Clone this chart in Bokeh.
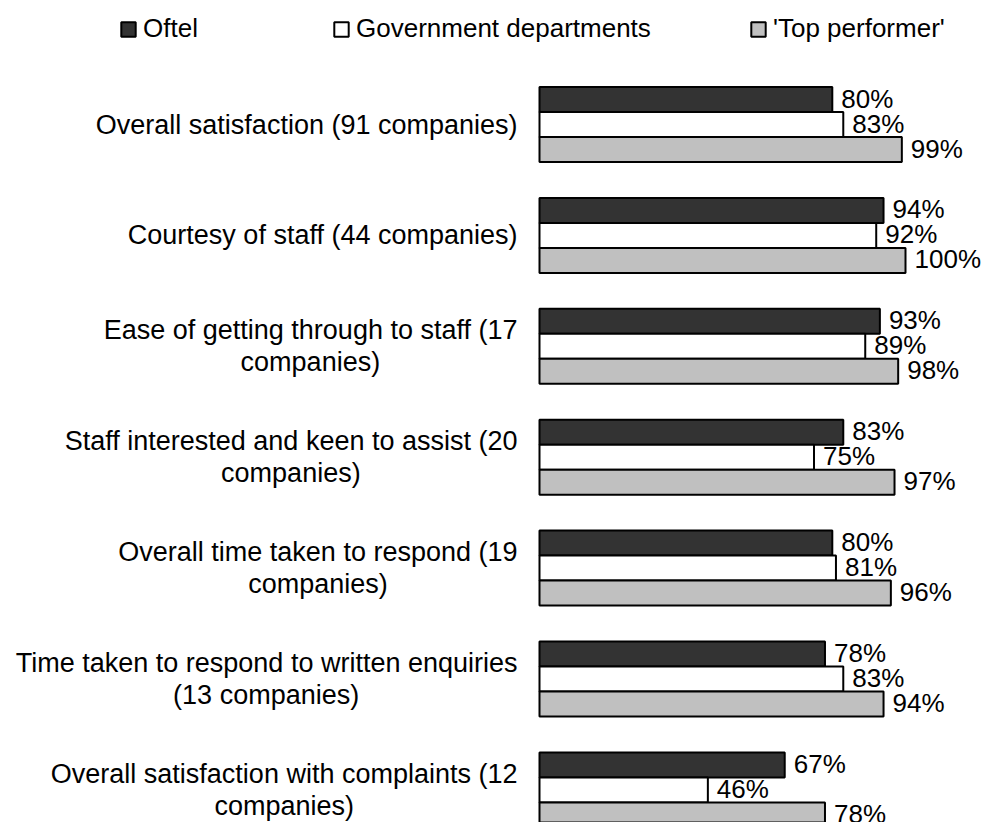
from bokeh.plotting import figure
from bokeh.models import Range1d, ColumnDataSource, Legend, LegendItem
from bokeh.embed import file_html
from bokeh.resources import INLINE
from bokeh.core.properties import value

# ---------------- data ----------------
categories = [
    ["Overall satisfaction (91 companies)"],
    ["Courtesy of staff (44 companies)"],
    ["Ease of getting through to staff (17", "companies)"],
    ["Staff interested and keen to assist (20", "companies)"],
    ["Overall time taken to respond (19", "companies)"],
    ["Time taken to respond to written enquiries", "(13 companies)"],
    ["Overall satisfaction with complaints (12", "companies)"],
]
series_names = ["Oftel", "Government departments", "'Top performer'"]
oftel = [80, 94, 93, 83, 80, 78, 67]
government = [83, 92, 89, 75, 81, 83, 46]
top_performer = [99, 100, 98, 97, 96, 94, 78]

# ---------------- layout ----------------
W, H = 984, 822
PX_PER_PCT = 3.66          # horizontal scale
X0_PX = 539                # pixel position of 0 %
PX_PER_CAT = 110.9         # vertical distance between groups
Y0_PX = 124                # pixel centre of first group
BAR_PX = 25

FONT = "Liberation Sans"
CAT_SIZE = "27px"
VAL_SIZE = "26px"

x_range = Range1d(-X0_PX / PX_PER_PCT, (W - X0_PX) / PX_PER_PCT)
y_range = Range1d((H - Y0_PX) / PX_PER_CAT, -Y0_PX / PX_PER_CAT)

p = figure(width=W, height=H, x_range=x_range, y_range=y_range,
           output_backend="svg", toolbar_location=None, min_border=0)
p.outline_line_color = None
p.axis.visible = False
p.grid.visible = False
p.background_fill_color = "white"

bar_h = BAR_PX / PX_PER_CAT
colors = ["#333333", "#ffffff", "#c0c0c0"]
series = [oftel, government, top_performer]
renderers = []
for k, (vals, col) in enumerate(zip(series, colors)):
    ys = [i + (k - 1) * bar_h for i in range(len(vals))]
    src = ColumnDataSource(dict(y=ys, v=vals, lab=[f"{v}%" for v in vals]))
    r = p.hbar(y="y", left=0, right="v", height=bar_h, source=src,
               fill_color=col, line_color="black", line_width=2)
    renderers.append(r)
    p.text(x="v", y="y", text="lab", source=src, x_offset=9, y_offset=-1,
           text_align="left", text_baseline="middle",
           text_font=value(FONT), text_font_size=VAL_SIZE, text_color="black")

# approximate Arial advance widths (per em) to centre second label lines
AW = {' ': .278, '(': .333, ')': .333, "'": .191, '%': .889}
AW.update({d: .556 for d in "0123456789"})
AW.update(dict(a=.556, b=.556, c=.5, d=.556, e=.556, f=.278, g=.556, h=.556,
               i=.222, j=.222, k=.5, l=.222, m=.833, n=.556, o=.556, p=.556,
               q=.556, r=.333, s=.5, t=.278, u=.556, v=.5, w=.722, x=.5,
               y=.5, z=.5, C=.722, E=.667, O=.778, S=.667, T=.611))

def text_w(s, size):
    return sum(AW.get(ch, .556) for ch in s) * size

cat_px = float(CAT_SIZE[:-2])
LABEL_RIGHT = -22
lx, ly, lt, lxo, lyo, la = [], [], [], [], [], []
for i, lines in enumerate(categories):
    if len(lines) == 1:
        lx.append(0); ly.append(i); lt.append(lines[0]); lxo.append(LABEL_RIGHT); lyo.append(0); la.append("right")
    else:
        w1 = text_w(lines[0], cat_px)
        lx.append(0); ly.append(i); lt.append(lines[0]); lxo.append(LABEL_RIGHT); lyo.append(-16); la.append("right")
        lx.append(0); ly.append(i); lt.append(lines[1]); lxo.append(LABEL_RIGHT - w1 / 2); lyo.append(16); la.append("center")
csrc = ColumnDataSource(dict(x=lx, y=ly, t=lt, xo=lxo, yo=lyo, a=la))
p.text(x="x", y="y", text="t", x_offset="xo", y_offset="yo", text_align="a",
       text_baseline="middle", source=csrc, text_font=value(FONT),
       text_font_size=CAT_SIZE, text_color="black")

# legends (one per item, placed like the original)
leg_x = [119, 332, 749]
for name, r, lxp in zip(series_names, renderers, leg_x):
    leg = Legend(items=[LegendItem(label=name, renderers=[r])],
                 location=(lxp, H - 14 - 30), orientation="horizontal",
                 glyph_width=18, glyph_height=18, label_standoff=6,
                 padding=0, margin=0, spacing=0,
                 border_line_alpha=0, background_fill_alpha=0,
                 label_text_font=FONT, label_text_font_size=VAL_SIZE,
                 label_text_color="black")
    p.add_layout(leg)

open("out.html", "w").write(file_html(p, INLINE))
